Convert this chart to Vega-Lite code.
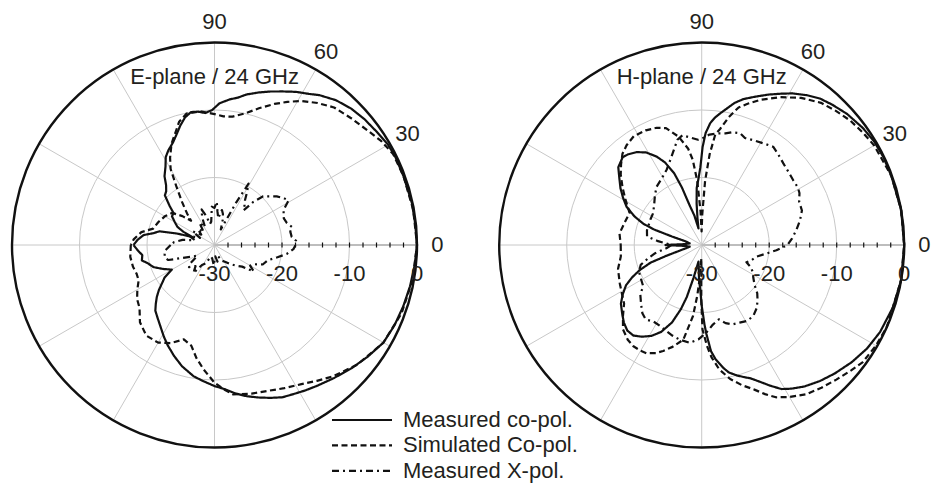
{
 "$schema": "https://vega.github.io/schema/vega-lite/v6.json",
 "width": 932,
 "height": 486,
 "autosize": {"type": "none"},
 "padding": 0,
 "background": "white",
 "config": {"view": {"stroke": null}, "font": "Liberation Sans"},
 "datasets": {
  "planes": [{"p": "E", "t": "E-plane / 24 GHz"}, {"p": "H", "t": "H-plane / 24 GHz"}],
  "rings": [{"p": "E", "lv": -20}, {"p": "E", "lv": -10}, {"p": "H", "lv": -20}, {"p": "H", "lv": -10}],
  "spokes": [
   {"p": "E", "a": 0}, {"p": "E", "a": 30}, {"p": "E", "a": 60}, {"p": "E", "a": 90}, {"p": "E", "a": 120}, {"p": "E", "a": 150},
   {"p": "E", "a": 180}, {"p": "E", "a": 210}, {"p": "E", "a": 240}, {"p": "E", "a": 270}, {"p": "E", "a": 300}, {"p": "E", "a": 330},
   {"p": "H", "a": 0}, {"p": "H", "a": 30}, {"p": "H", "a": 60}, {"p": "H", "a": 90}, {"p": "H", "a": 120}, {"p": "H", "a": 150},
   {"p": "H", "a": 180}, {"p": "H", "a": 210}, {"p": "H", "a": 240}, {"p": "H", "a": 270}, {"p": "H", "a": 300}, {"p": "H", "a": 330}
  ],
  "ticks": [
   {"p": "E", "d": -28}, {"p": "E", "d": -26}, {"p": "E", "d": -24}, {"p": "E", "d": -22}, {"p": "E", "d": -20}, {"p": "E", "d": -18}, {"p": "E", "d": -16},
   {"p": "E", "d": -14}, {"p": "E", "d": -12}, {"p": "E", "d": -10}, {"p": "E", "d": -8}, {"p": "E", "d": -6}, {"p": "E", "d": -4}, {"p": "E", "d": -2},
   {"p": "H", "d": -28}, {"p": "H", "d": -26}, {"p": "H", "d": -24}, {"p": "H", "d": -22}, {"p": "H", "d": -20}, {"p": "H", "d": -18}, {"p": "H", "d": -16},
   {"p": "H", "d": -14}, {"p": "H", "d": -12}, {"p": "H", "d": -10}, {"p": "H", "d": -8}, {"p": "H", "d": -6}, {"p": "H", "d": -4}, {"p": "H", "d": -2}
  ],
  "alabels": [
   {"p": "E", "a": 0, "t": "0"}, {"p": "E", "a": 30, "t": "30"}, {"p": "E", "a": 60, "t": "60"}, {"p": "E", "a": 90, "t": "90"},
   {"p": "H", "a": 0, "t": "0"}, {"p": "H", "a": 30, "t": "30"}, {"p": "H", "a": 60, "t": "60"}, {"p": "H", "a": 90, "t": "90"}
  ],
  "rlabels": [
   {"p": "E", "d": -30, "t": "-30"}, {"p": "E", "d": -20, "t": "-20"}, {"p": "E", "d": -10, "t": "-10"}, {"p": "E", "d": 0, "t": "0"},
   {"p": "H", "d": -30, "t": "-30"}, {"p": "H", "d": -20, "t": "-20"}, {"p": "H", "d": -10, "t": "-10"}, {"p": "H", "d": 0, "t": "0"}
  ],
  "curves": [
   {"p":"E","s":"M","a":-180,"d":-18.0},{"p":"E","s":"M","a":-176,"d":-18.6},{"p":"E","s":"M","a":-172,"d":-19.2},{"p":"E","s":"M","a":-168,"d":-19.0},
   {"p":"E","s":"M","a":-165,"d":-19.7},{"p":"E","s":"M","a":-160,"d":-20.4},{"p":"E","s":"M","a":-155,"d":-21.6},{"p":"E","s":"M","a":-150,"d":-22.7},
   {"p":"E","s":"M","a":-147,"d":-21.2},{"p":"E","s":"M","a":-144,"d":-20.4},{"p":"E","s":"M","a":-141,"d":-19.4},{"p":"E","s":"M","a":-138,"d":-18.5},
   {"p":"E","s":"M","a":-135,"d":-17.7},{"p":"E","s":"M","a":-132,"d":-16.9},{"p":"E","s":"M","a":-128,"d":-16.3},{"p":"E","s":"M","a":-124,"d":-15.6},
   {"p":"E","s":"M","a":-119,"d":-14.5},{"p":"E","s":"M","a":-115,"d":-13.6},{"p":"E","s":"M","a":-110,"d":-12.5},{"p":"E","s":"M","a":-105,"d":-11.4},
   {"p":"E","s":"M","a":-99,"d":-10.3},{"p":"E","s":"M","a":-95,"d":-9.8},{"p":"E","s":"M","a":-90,"d":-9.1},{"p":"E","s":"M","a":-86,"d":-8.6},
   {"p":"E","s":"M","a":-82,"d":-7.8},{"p":"E","s":"M","a":-78,"d":-7.1},{"p":"E","s":"M","a":-74,"d":-6.5},{"p":"E","s":"M","a":-70,"d":-5.9},
   {"p":"E","s":"M","a":-66,"d":-5.3},{"p":"E","s":"M","a":-62,"d":-5.0},{"p":"E","s":"M","a":-58,"d":-4.6},{"p":"E","s":"M","a":-54,"d":-4.2},
   {"p":"E","s":"M","a":-48,"d":-3.5},{"p":"E","s":"M","a":-42,"d":-2.7},{"p":"E","s":"M","a":-36,"d":-1.9},{"p":"E","s":"M","a":-30,"d":-1.1},
   {"p":"E","s":"M","a":-24,"d":-0.8},{"p":"E","s":"M","a":-18,"d":-0.6},{"p":"E","s":"M","a":-12,"d":-0.4},{"p":"E","s":"M","a":-6,"d":-0.2},
   {"p":"E","s":"M","a":0,"d":0},{"p":"E","s":"M","a":6,"d":-0.1},{"p":"E","s":"M","a":12,"d":-0.1},{"p":"E","s":"M","a":20,"d":-0.2},
   {"p":"E","s":"M","a":26,"d":-0.2},{"p":"E","s":"M","a":30,"d":-0.3},{"p":"E","s":"M","a":35,"d":-0.7},{"p":"E","s":"M","a":40,"d":-1.0},
   {"p":"E","s":"M","a":45,"d":-1.4},{"p":"E","s":"M","a":50,"d":-2.0},{"p":"E","s":"M","a":55,"d":-2.9},{"p":"E","s":"M","a":58,"d":-3.6},
   {"p":"E","s":"M","a":62,"d":-4.3},{"p":"E","s":"M","a":66,"d":-5.1},{"p":"E","s":"M","a":70,"d":-5.8},{"p":"E","s":"M","a":74,"d":-6.5},
   {"p":"E","s":"M","a":78,"d":-7.2},{"p":"E","s":"M","a":81,"d":-7.9},{"p":"E","s":"M","a":84,"d":-8.3},{"p":"E","s":"M","a":88,"d":-9.0},
   {"p":"E","s":"M","a":91,"d":-10.0},{"p":"E","s":"M","a":94,"d":-10.4},{"p":"E","s":"M","a":97,"d":-10.1},{"p":"E","s":"M","a":100,"d":-10.0},
   {"p":"E","s":"M","a":103,"d":-10.6},{"p":"E","s":"M","a":106,"d":-11.6},{"p":"E","s":"M","a":109,"d":-12.7},{"p":"E","s":"M","a":112,"d":-13.6},
   {"p":"E","s":"M","a":116,"d":-14.4},{"p":"E","s":"M","a":119,"d":-15.1},{"p":"E","s":"M","a":122,"d":-16.3},{"p":"E","s":"M","a":126,"d":-17.4},
   {"p":"E","s":"M","a":129,"d":-18.6},{"p":"E","s":"M","a":132,"d":-19.3},{"p":"E","s":"M","a":135,"d":-19.6},{"p":"E","s":"M","a":139,"d":-21.2},
   {"p":"E","s":"M","a":142,"d":-22.3},{"p":"E","s":"M","a":146,"d":-22.4},{"p":"E","s":"M","a":150,"d":-23.2},{"p":"E","s":"M","a":154,"d":-23.9},
   {"p":"E","s":"M","a":157,"d":-25.0},{"p":"E","s":"M","a":160,"d":-26.5},{"p":"E","s":"M","a":163,"d":-24.2},{"p":"E","s":"M","a":166,"d":-21.6},
   {"p":"E","s":"M","a":169,"d":-20.8},{"p":"E","s":"M","a":172,"d":-19.4},{"p":"E","s":"M","a":176,"d":-18.6},{"p":"E","s":"M","a":180,"d":-18.0},

   {"p":"E","s":"S","a":-180,"d":-17.6},{"p":"E","s":"S","a":-172,"d":-17.4},{"p":"E","s":"S","a":-165,"d":-17.5},{"p":"E","s":"S","a":-160,"d":-17.7},
   {"p":"E","s":"S","a":-155,"d":-17.6},{"p":"E","s":"S","a":-150,"d":-16.8},{"p":"E","s":"S","a":-145,"d":-16.0},{"p":"E","s":"S","a":-140,"d":-15.5},
   {"p":"E","s":"S","a":-134,"d":-14.1},{"p":"E","s":"S","a":-127,"d":-13.2},{"p":"E","s":"S","a":-120,"d":-13.3},{"p":"E","s":"S","a":-114,"d":-14.1},
   {"p":"E","s":"S","a":-108,"d":-15.3},{"p":"E","s":"S","a":-103,"d":-14.7},{"p":"E","s":"S","a":-99,"d":-13.0},{"p":"E","s":"S","a":-95,"d":-11.5},
   {"p":"E","s":"S","a":-90,"d":-9.6},{"p":"E","s":"S","a":-86,"d":-8.5},{"p":"E","s":"S","a":-83,"d":-7.7},{"p":"E","s":"S","a":-76,"d":-7.3},
   {"p":"E","s":"S","a":-70,"d":-7.0},{"p":"E","s":"S","a":-64,"d":-6.4},{"p":"E","s":"S","a":-58,"d":-5.7},{"p":"E","s":"S","a":-53,"d":-4.8},
   {"p":"E","s":"S","a":-48,"d":-3.8},{"p":"E","s":"S","a":-40,"d":-2.4},{"p":"E","s":"S","a":-30,"d":-1.1},{"p":"E","s":"S","a":-20,"d":-0.5},
   {"p":"E","s":"S","a":-10,"d":-0.2},{"p":"E","s":"S","a":0,"d":0},{"p":"E","s":"S","a":10,"d":-0.1},{"p":"E","s":"S","a":20,"d":-0.2},
   {"p":"E","s":"S","a":27,"d":-0.3},{"p":"E","s":"S","a":32,"d":-0.9},{"p":"E","s":"S","a":37,"d":-1.7},{"p":"E","s":"S","a":43,"d":-2.4},
   {"p":"E","s":"S","a":49,"d":-3.0},{"p":"E","s":"S","a":54,"d":-4.0},{"p":"E","s":"S","a":59,"d":-5.1},{"p":"E","s":"S","a":63,"d":-6.2},
   {"p":"E","s":"S","a":67,"d":-7.3},{"p":"E","s":"S","a":72,"d":-8.7},{"p":"E","s":"S","a":77,"d":-10.0},{"p":"E","s":"S","a":82,"d":-10.8},
   {"p":"E","s":"S","a":86,"d":-10.9},{"p":"E","s":"S","a":90,"d":-10.6},{"p":"E","s":"S","a":96,"d":-10.1},{"p":"E","s":"S","a":102,"d":-10.1},
   {"p":"E","s":"S","a":106,"d":-11.0},{"p":"E","s":"S","a":109,"d":-12.3},{"p":"E","s":"S","a":113,"d":-13.7},{"p":"E","s":"S","a":117,"d":-15.5},
   {"p":"E","s":"S","a":120,"d":-17.0},{"p":"E","s":"S","a":123,"d":-19.6},{"p":"E","s":"S","a":127,"d":-22.0},{"p":"E","s":"S","a":131,"d":-23.8},
   {"p":"E","s":"S","a":134,"d":-25.0},{"p":"E","s":"S","a":138,"d":-23.6},{"p":"E","s":"S","a":143,"d":-22.1},{"p":"E","s":"S","a":150,"d":-21.5},
   {"p":"E","s":"S","a":158,"d":-21.0},{"p":"E","s":"S","a":165,"d":-20.6},{"p":"E","s":"S","a":170,"d":-19.0},{"p":"E","s":"S","a":176,"d":-18.0},
   {"p":"E","s":"S","a":180,"d":-17.6},

   {"p":"E","s":"X","a":-180,"d":-23.5},{"p":"E","s":"X","a":-174,"d":-22.7},{"p":"E","s":"X","a":-170,"d":-22.5},{"p":"E","s":"X","a":-166,"d":-22.4},
   {"p":"E","s":"X","a":-162,"d":-22.8},{"p":"E","s":"X","a":-159,"d":-24.5},{"p":"E","s":"X","a":-154,"d":-26.0},{"p":"E","s":"X","a":-148,"d":-27.0},
   {"p":"E","s":"X","a":-143,"d":-25.6},{"p":"E","s":"X","a":-139,"d":-25.0},{"p":"E","s":"X","a":-132,"d":-25.8},{"p":"E","s":"X","a":-127,"d":-24.8},
   {"p":"E","s":"X","a":-122,"d":-26.5},{"p":"E","s":"X","a":-115,"d":-27.0},{"p":"E","s":"X","a":-108,"d":-28.2},{"p":"E","s":"X","a":-100,"d":-28.0},
   {"p":"E","s":"X","a":-92,"d":-27.0},{"p":"E","s":"X","a":-86,"d":-28.3},{"p":"E","s":"X","a":-80,"d":-27.5},{"p":"E","s":"X","a":-72,"d":-28.2},
   {"p":"E","s":"X","a":-64,"d":-27.4},{"p":"E","s":"X","a":-57,"d":-27.0},{"p":"E","s":"X","a":-50,"d":-26.3},{"p":"E","s":"X","a":-44,"d":-25.6},
   {"p":"E","s":"X","a":-38,"d":-24.8},{"p":"E","s":"X","a":-34,"d":-23.0},{"p":"E","s":"X","a":-30,"d":-23.9},{"p":"E","s":"X","a":-26,"d":-23.5},
   {"p":"E","s":"X","a":-22,"d":-22.3},{"p":"E","s":"X","a":-16,"d":-21.8},{"p":"E","s":"X","a":-11,"d":-20.5},{"p":"E","s":"X","a":-7,"d":-19.2},
   {"p":"E","s":"X","a":-3,"d":-18.3},{"p":"E","s":"X","a":0,"d":-18.0},{"p":"E","s":"X","a":3,"d":-17.9},{"p":"E","s":"X","a":6,"d":-18.5},
   {"p":"E","s":"X","a":10,"d":-18.6},{"p":"E","s":"X","a":13,"d":-18.2},{"p":"E","s":"X","a":17,"d":-18.8},{"p":"E","s":"X","a":21,"d":-19.0},
   {"p":"E","s":"X","a":24,"d":-18.8},{"p":"E","s":"X","a":27,"d":-18.5},{"p":"E","s":"X","a":31,"d":-17.2},{"p":"E","s":"X","a":34,"d":-17.6},
   {"p":"E","s":"X","a":38,"d":-18.3},{"p":"E","s":"X","a":41,"d":-19.0},{"p":"E","s":"X","a":45,"d":-19.8},{"p":"E","s":"X","a":48,"d":-21.4},
   {"p":"E","s":"X","a":50,"d":-23.3},{"p":"E","s":"X","a":53,"d":-22.6},{"p":"E","s":"X","a":56,"d":-21.9},{"p":"E","s":"X","a":58,"d":-21.0},
   {"p":"E","s":"X","a":61,"d":-19.6},{"p":"E","s":"X","a":63,"d":-23.0},{"p":"E","s":"X","a":65,"d":-26.0},{"p":"E","s":"X","a":68,"d":-27.5},
   {"p":"E","s":"X","a":72,"d":-26.0},{"p":"E","s":"X","a":75,"d":-25.2},{"p":"E","s":"X","a":78,"d":-24.7},{"p":"E","s":"X","a":82,"d":-26.0},
   {"p":"E","s":"X","a":85,"d":-25.0},{"p":"E","s":"X","a":87,"d":-23.6},{"p":"E","s":"X","a":90,"d":-24.5},{"p":"E","s":"X","a":94,"d":-24.3},
   {"p":"E","s":"X","a":98,"d":-26.5},{"p":"E","s":"X","a":102,"d":-26.8},{"p":"E","s":"X","a":106,"d":-25.5},{"p":"E","s":"X","a":110,"d":-24.4},
   {"p":"E","s":"X","a":114,"d":-25.5},{"p":"E","s":"X","a":118,"d":-27.0},{"p":"E","s":"X","a":124,"d":-26.0},{"p":"E","s":"X","a":130,"d":-27.5},
   {"p":"E","s":"X","a":136,"d":-26.6},{"p":"E","s":"X","a":142,"d":-27.5},{"p":"E","s":"X","a":148,"d":-26.2},{"p":"E","s":"X","a":154,"d":-27.6},
   {"p":"E","s":"X","a":160,"d":-26.0},{"p":"E","s":"X","a":166,"d":-27.0},{"p":"E","s":"X","a":171,"d":-25.2},{"p":"E","s":"X","a":176,"d":-24.0},
   {"p":"E","s":"X","a":180,"d":-23.5},

   {"p":"H","s":"M","a":-180,"d":-24.5},{"p":"H","s":"M","a":-177,"d":-27.5},{"p":"H","s":"M","a":-172,"d":-28.2},{"p":"H","s":"M","a":-168,"d":-27.5},
   {"p":"H","s":"M","a":-165,"d":-26.3},{"p":"H","s":"M","a":-163,"d":-24.5},{"p":"H","s":"M","a":-161,"d":-22.0},{"p":"H","s":"M","a":-158,"d":-20.1},
   {"p":"H","s":"M","a":-155,"d":-18.6},{"p":"H","s":"M","a":-152,"d":-17.3},{"p":"H","s":"M","a":-148,"d":-16.2},{"p":"H","s":"M","a":-144,"d":-15.2},
   {"p":"H","s":"M","a":-139,"d":-14.4},{"p":"H","s":"M","a":-135,"d":-13.7},{"p":"H","s":"M","a":-131,"d":-13.2},{"p":"H","s":"M","a":-127,"d":-13.2},
   {"p":"H","s":"M","a":-123,"d":-13.8},{"p":"H","s":"M","a":-119,"d":-14.6},{"p":"H","s":"M","a":-115,"d":-15.8},{"p":"H","s":"M","a":-111,"d":-17.7},
   {"p":"H","s":"M","a":-108,"d":-20.0},{"p":"H","s":"M","a":-106,"d":-22.0},{"p":"H","s":"M","a":-104,"d":-25.0},{"p":"H","s":"M","a":-101,"d":-27.5},
   {"p":"H","s":"M","a":-98,"d":-26.8},{"p":"H","s":"M","a":-96,"d":-25.8},{"p":"H","s":"M","a":-94,"d":-24.6},{"p":"H","s":"M","a":-92,"d":-23.5},
   {"p":"H","s":"M","a":-90,"d":-21.0},{"p":"H","s":"M","a":-88,"d":-18.2},{"p":"H","s":"M","a":-87,"d":-16.8},{"p":"H","s":"M","a":-85,"d":-14.2},
   {"p":"H","s":"M","a":-83,"d":-12.9},{"p":"H","s":"M","a":-80,"d":-11.5},{"p":"H","s":"M","a":-78,"d":-10.7},{"p":"H","s":"M","a":-75,"d":-10.0},
   {"p":"H","s":"M","a":-72,"d":-9.4},{"p":"H","s":"M","a":-70,"d":-9.0},{"p":"H","s":"M","a":-67,"d":-8.0},{"p":"H","s":"M","a":-64,"d":-6.8},
   {"p":"H","s":"M","a":-61,"d":-5.6},{"p":"H","s":"M","a":-58,"d":-4.9},{"p":"H","s":"M","a":-54,"d":-4.1},{"p":"H","s":"M","a":-49,"d":-3.3},
   {"p":"H","s":"M","a":-44,"d":-2.6},{"p":"H","s":"M","a":-38,"d":-1.8},{"p":"H","s":"M","a":-32,"d":-1.1},{"p":"H","s":"M","a":-26,"d":-0.6},
   {"p":"H","s":"M","a":-18,"d":-0.2},{"p":"H","s":"M","a":-10,"d":0},{"p":"H","s":"M","a":0,"d":0},{"p":"H","s":"M","a":10,"d":0},
   {"p":"H","s":"M","a":20,"d":-0.1},{"p":"H","s":"M","a":26,"d":-0.1},{"p":"H","s":"M","a":31,"d":-0.2},{"p":"H","s":"M","a":36,"d":-0.5},
   {"p":"H","s":"M","a":42,"d":-1.0},{"p":"H","s":"M","a":47,"d":-1.6},{"p":"H","s":"M","a":51,"d":-2.1},{"p":"H","s":"M","a":55,"d":-2.9},
   {"p":"H","s":"M","a":59,"d":-3.8},{"p":"H","s":"M","a":62,"d":-4.6},{"p":"H","s":"M","a":66,"d":-5.6},{"p":"H","s":"M","a":70,"d":-6.6},
   {"p":"H","s":"M","a":74,"d":-7.5},{"p":"H","s":"M","a":77,"d":-8.4},{"p":"H","s":"M","a":80,"d":-9.6},{"p":"H","s":"M","a":82,"d":-10.3},
   {"p":"H","s":"M","a":84,"d":-11.0},{"p":"H","s":"M","a":86,"d":-11.9},{"p":"H","s":"M","a":88,"d":-13.4},{"p":"H","s":"M","a":89.5,"d":-15.5},
   {"p":"H","s":"M","a":91,"d":-18.5},{"p":"H","s":"M","a":93,"d":-20.3},{"p":"H","s":"M","a":95,"d":-21.5},{"p":"H","s":"M","a":97,"d":-23.8},
   {"p":"H","s":"M","a":99,"d":-26.0},{"p":"H","s":"M","a":101,"d":-27.5},{"p":"H","s":"M","a":104,"d":-25.5},{"p":"H","s":"M","a":107,"d":-23.8},
   {"p":"H","s":"M","a":109,"d":-21.0},{"p":"H","s":"M","a":111,"d":-18.6},{"p":"H","s":"M","a":114,"d":-16.6},{"p":"H","s":"M","a":117,"d":-15.3},
   {"p":"H","s":"M","a":121,"d":-14.0},{"p":"H","s":"M","a":125,"d":-13.2},{"p":"H","s":"M","a":129,"d":-12.7},{"p":"H","s":"M","a":132,"d":-12.5},
   {"p":"H","s":"M","a":137,"d":-13.1},{"p":"H","s":"M","a":141,"d":-14.3},{"p":"H","s":"M","a":145,"d":-15.3},{"p":"H","s":"M","a":149,"d":-16.4},
   {"p":"H","s":"M","a":153,"d":-17.5},{"p":"H","s":"M","a":157,"d":-19.2},{"p":"H","s":"M","a":160,"d":-20.8},{"p":"H","s":"M","a":162,"d":-22.6},
   {"p":"H","s":"M","a":164,"d":-25.4},{"p":"H","s":"M","a":167,"d":-27.5},{"p":"H","s":"M","a":172,"d":-28.2},{"p":"H","s":"M","a":177,"d":-27.5},
   {"p":"H","s":"M","a":180,"d":-24.5},

   {"p":"H","s":"S","a":-180,"d":-18.0},{"p":"H","s":"S","a":-172,"d":-17.9},{"p":"H","s":"S","a":-164,"d":-17.1},{"p":"H","s":"S","a":-155,"d":-16.6},
   {"p":"H","s":"S","a":-148,"d":-16.1},{"p":"H","s":"S","a":-143,"d":-15.6},{"p":"H","s":"S","a":-138,"d":-14.3},{"p":"H","s":"S","a":-133,"d":-12.9},
   {"p":"H","s":"S","a":-128,"d":-12.2},{"p":"H","s":"S","a":-124,"d":-11.9},{"p":"H","s":"S","a":-120,"d":-11.9},{"p":"H","s":"S","a":-117,"d":-12.0},
   {"p":"H","s":"S","a":-113,"d":-12.6},{"p":"H","s":"S","a":-110,"d":-13.3},{"p":"H","s":"S","a":-106,"d":-14.3},{"p":"H","s":"S","a":-101,"d":-15.7},
   {"p":"H","s":"S","a":-97,"d":-19.4},{"p":"H","s":"S","a":-95,"d":-22.5},{"p":"H","s":"S","a":-93,"d":-25.5},{"p":"H","s":"S","a":-91.5,"d":-28.0},
   {"p":"H","s":"S","a":-90.5,"d":-22.0},{"p":"H","s":"S","a":-89.5,"d":-17.5},{"p":"H","s":"S","a":-87,"d":-15.0},{"p":"H","s":"S","a":-85,"d":-13.3},
   {"p":"H","s":"S","a":-82,"d":-11.4},{"p":"H","s":"S","a":-78,"d":-9.7},{"p":"H","s":"S","a":-74,"d":-8.4},{"p":"H","s":"S","a":-70,"d":-7.2},
   {"p":"H","s":"S","a":-67,"d":-6.0},{"p":"H","s":"S","a":-64,"d":-4.9},{"p":"H","s":"S","a":-60,"d":-4.0},{"p":"H","s":"S","a":-55,"d":-3.0},
   {"p":"H","s":"S","a":-50,"d":-2.4},{"p":"H","s":"S","a":-45,"d":-1.8},{"p":"H","s":"S","a":-40,"d":-1.1},{"p":"H","s":"S","a":-36,"d":-0.5},
   {"p":"H","s":"S","a":-30,"d":-0.2},{"p":"H","s":"S","a":-24,"d":0},{"p":"H","s":"S","a":-10,"d":0},{"p":"H","s":"S","a":0,"d":0},
   {"p":"H","s":"S","a":10,"d":0},{"p":"H","s":"S","a":20,"d":-0.1},{"p":"H","s":"S","a":30,"d":-0.5},{"p":"H","s":"S","a":35,"d":-0.9},
   {"p":"H","s":"S","a":40,"d":-1.3},{"p":"H","s":"S","a":45,"d":-1.9},{"p":"H","s":"S","a":50,"d":-2.5},{"p":"H","s":"S","a":56,"d":-3.7},
   {"p":"H","s":"S","a":62,"d":-5.2},{"p":"H","s":"S","a":68,"d":-6.8},{"p":"H","s":"S","a":72,"d":-8.0},{"p":"H","s":"S","a":75,"d":-8.9},
   {"p":"H","s":"S","a":78,"d":-10.6},{"p":"H","s":"S","a":81,"d":-12.6},{"p":"H","s":"S","a":83,"d":-13.5},{"p":"H","s":"S","a":85,"d":-16.5},
   {"p":"H","s":"S","a":87,"d":-20.5},{"p":"H","s":"S","a":89,"d":-25.5},{"p":"H","s":"S","a":90.5,"d":-28.0},{"p":"H","s":"S","a":92,"d":-25.0},
   {"p":"H","s":"S","a":94,"d":-20.5},{"p":"H","s":"S","a":96,"d":-17.3},{"p":"H","s":"S","a":98,"d":-15.6},{"p":"H","s":"S","a":102,"d":-13.6},
   {"p":"H","s":"S","a":107,"d":-11.9},{"p":"H","s":"S","a":111,"d":-11.4},{"p":"H","s":"S","a":116,"d":-11.1},{"p":"H","s":"S","a":122,"d":-11.0},
   {"p":"H","s":"S","a":127,"d":-11.5},{"p":"H","s":"S","a":131,"d":-12.1},{"p":"H","s":"S","a":135,"d":-13.1},{"p":"H","s":"S","a":139,"d":-14.1},
   {"p":"H","s":"S","a":144,"d":-15.5},{"p":"H","s":"S","a":149,"d":-16.8},{"p":"H","s":"S","a":156,"d":-18.3},{"p":"H","s":"S","a":164,"d":-18.1},
   {"p":"H","s":"S","a":172,"d":-17.7},{"p":"H","s":"S","a":180,"d":-18.0},

   {"p":"H","s":"X","a":-180,"d":-25.5},{"p":"H","s":"X","a":-175,"d":-24.8},{"p":"H","s":"X","a":-170,"d":-23.0},{"p":"H","s":"X","a":-166,"d":-21.8},
   {"p":"H","s":"X","a":-162,"d":-20.5},{"p":"H","s":"X","a":-157,"d":-19.9},{"p":"H","s":"X","a":-151,"d":-19.7},{"p":"H","s":"X","a":-145,"d":-19.4},
   {"p":"H","s":"X","a":-141,"d":-18.3},{"p":"H","s":"X","a":-136,"d":-17.5},{"p":"H","s":"X","a":-131,"d":-16.6},{"p":"H","s":"X","a":-127,"d":-16.2},
   {"p":"H","s":"X","a":-122,"d":-16.6},{"p":"H","s":"X","a":-117,"d":-16.5},{"p":"H","s":"X","a":-112,"d":-16.2},{"p":"H","s":"X","a":-108,"d":-15.9},
   {"p":"H","s":"X","a":-103,"d":-15.6},{"p":"H","s":"X","a":-97,"d":-15.4},{"p":"H","s":"X","a":-92,"d":-16.0},{"p":"H","s":"X","a":-87,"d":-17.0},
   {"p":"H","s":"X","a":-82,"d":-18.1},{"p":"H","s":"X","a":-77,"d":-18.7},{"p":"H","s":"X","a":-73,"d":-17.9},{"p":"H","s":"X","a":-69,"d":-17.4},
   {"p":"H","s":"X","a":-64,"d":-17.2},{"p":"H","s":"X","a":-59,"d":-16.9},{"p":"H","s":"X","a":-54,"d":-17.0},{"p":"H","s":"X","a":-49,"d":-17.6},
   {"p":"H","s":"X","a":-45,"d":-18.3},{"p":"H","s":"X","a":-41,"d":-19.1},{"p":"H","s":"X","a":-37,"d":-20.2},{"p":"H","s":"X","a":-32,"d":-21.0},
   {"p":"H","s":"X","a":-28,"d":-21.4},{"p":"H","s":"X","a":-24,"d":-22.1},{"p":"H","s":"X","a":-21,"d":-22.9},{"p":"H","s":"X","a":-17,"d":-22.3},
   {"p":"H","s":"X","a":-12,"d":-21.7},{"p":"H","s":"X","a":-8,"d":-20.5},{"p":"H","s":"X","a":-4,"d":-18.9},{"p":"H","s":"X","a":0,"d":-17.3},
   {"p":"H","s":"X","a":4,"d":-16.6},{"p":"H","s":"X","a":9,"d":-15.8},{"p":"H","s":"X","a":14,"d":-15.0},{"p":"H","s":"X","a":19,"d":-14.3},
   {"p":"H","s":"X","a":24,"d":-14.2},{"p":"H","s":"X","a":28,"d":-13.6},{"p":"H","s":"X","a":31,"d":-13.4},{"p":"H","s":"X","a":35,"d":-13.4},
   {"p":"H","s":"X","a":40,"d":-13.2},{"p":"H","s":"X","a":45,"d":-12.9},{"p":"H","s":"X","a":50,"d":-12.4},{"p":"H","s":"X","a":54,"d":-12.0},
   {"p":"H","s":"X","a":59,"d":-12.4},{"p":"H","s":"X","a":64,"d":-12.7},{"p":"H","s":"X","a":68,"d":-12.9},{"p":"H","s":"X","a":71,"d":-12.5},
   {"p":"H","s":"X","a":75,"d":-12.7},{"p":"H","s":"X","a":78,"d":-13.1},{"p":"H","s":"X","a":82,"d":-13.3},{"p":"H","s":"X","a":86,"d":-13.6},
   {"p":"H","s":"X","a":89,"d":-14.1},{"p":"H","s":"X","a":92,"d":-14.4},{"p":"H","s":"X","a":96,"d":-14.0},{"p":"H","s":"X","a":100,"d":-13.5},
   {"p":"H","s":"X","a":103,"d":-14.0},{"p":"H","s":"X","a":106,"d":-15.2},{"p":"H","s":"X","a":110,"d":-16.5},{"p":"H","s":"X","a":115,"d":-17.7},
   {"p":"H","s":"X","a":121,"d":-18.5},{"p":"H","s":"X","a":128,"d":-19.1},{"p":"H","s":"X","a":134,"d":-20.0},{"p":"H","s":"X","a":140,"d":-20.8},
   {"p":"H","s":"X","a":147,"d":-21.4},{"p":"H","s":"X","a":153,"d":-21.5},{"p":"H","s":"X","a":159,"d":-21.6},{"p":"H","s":"X","a":165,"d":-21.6},
   {"p":"H","s":"X","a":171,"d":-21.8},{"p":"H","s":"X","a":175,"d":-23.5},{"p":"H","s":"X","a":180,"d":-25.5}
  ]
 },
 "layer": [
  {
   "data": {"name": "rings"},
   "transform": [{"calculate": "datum.p == 'E' ? 0 : 2.406", "as": "cx"}, {"calculate": "0", "as": "cy"}],
   "mark": {"type": "point", "shape": "circle", "filled": false, "stroke": "#c8c8c8", "strokeWidth": 1, "opacity": 1},
   "encoding": {
    "x": {"field": "cx", "type": "quantitative", "scale": {"domain": [-1.0593, 3.5432], "nice": false, "zero": false}, "axis": null},
    "y": {"field": "cy", "type": "quantitative", "scale": {"domain": [-1.1901, 1.2099], "nice": false, "zero": false}, "axis": null},
    "size": {"field": "lv", "type": "nominal", "scale": {"domain": [-20, -10], "range": [18225, 72900]}, "legend": null}
   }
  },
  {
   "data": {"name": "spokes"},
   "transform": [
    {"calculate": "datum.p == 'E' ? 0 : 2.406", "as": "cx"},
    {"calculate": "0", "as": "cy"},
    {"calculate": "datum.cx + cos(datum.a * PI / 180)", "as": "x2"},
    {"calculate": "sin(datum.a * PI / 180)", "as": "y2"}
   ],
   "mark": {"type": "rule", "stroke": "#c8c8c8", "strokeWidth": 1},
   "encoding": {
    "x": {"field": "cx", "type": "quantitative"},
    "y": {"field": "cy", "type": "quantitative"},
    "x2": {"field": "x2"},
    "y2": {"field": "y2"}
   }
  },
  {
   "data": {"name": "spokes"},
   "transform": [
    {"filter": "datum.a == 0"},
    {"calculate": "datum.p == 'E' ? 0 : 2.406", "as": "cx"},
    {"calculate": "0", "as": "cy"},
    {"calculate": "datum.cx + 1", "as": "x2"}
   ],
   "mark": {"type": "rule", "stroke": "#bdbdbd", "strokeWidth": 2},
   "encoding": {
    "x": {"field": "cx", "type": "quantitative"},
    "y": {"field": "cy", "type": "quantitative"},
    "x2": {"field": "x2"}
   }
  },
  {
   "data": {"name": "ticks"},
   "transform": [
    {"calculate": "datum.p == 'E' ? 0 : 2.406", "as": "cx"},
    {"calculate": "0", "as": "cy"},
    {"calculate": "datum.cx + (datum.d + 30) / 30", "as": "x"}
   ],
   "mark": {"type": "tick", "orient": "vertical", "size": 5, "thickness": 1.2, "color": "#111", "opacity": 1},
   "encoding": {
    "x": {"field": "x", "type": "quantitative"},
    "y": {"field": "cy", "type": "quantitative"}
   }
  },
  {
   "data": {"name": "planes"},
   "transform": [{"calculate": "datum.p == 'E' ? 0 : 2.406", "as": "cx"}, {"calculate": "0", "as": "cy"}],
   "mark": {"type": "point", "shape": "circle", "filled": false, "stroke": "#111", "strokeWidth": 2.4, "opacity": 1, "size": 164025},
   "encoding": {
    "x": {"field": "cx", "type": "quantitative"},
    "y": {"field": "cy", "type": "quantitative"}
   }
  },
  {
   "data": {"name": "curves"},
   "transform": [
    {"calculate": "datum.p == 'E' ? 0 : 2.406", "as": "cx"},
    {"calculate": "max(0, (datum.d + 30) / 30)", "as": "r"},
    {"calculate": "datum.cx + datum.r * cos(datum.a * PI / 180)", "as": "x"},
    {"calculate": "datum.r * sin(datum.a * PI / 180)", "as": "y"}
   ],
   "mark": {"type": "line", "color": "#111", "strokeWidth": 2.2, "strokeJoin": "round"},
   "encoding": {
    "x": {"field": "x", "type": "quantitative"},
    "y": {"field": "y", "type": "quantitative"},
    "detail": {"field": "p", "type": "nominal"},
    "order": {"field": "a", "type": "quantitative"},
    "strokeDash": {
     "field": "s", "type": "nominal",
     "scale": {"domain": ["M", "S", "X"], "range": [[1, 0], [6, 3.5], [7, 4, 2, 4]]},
     "legend": {
      "title": null, "orient": "none", "legendX": 351, "legendY": 409,
      "symbolType": "M-5,0H5", "symbolSize": 144, "symbolStrokeWidth": 2.2, "symbolStrokeColor": "#111",
      "labelFontSize": 22, "labelFont": "Liberation Sans", "labelColor": "#231f20", "labelOffset": 30,
      "rowPadding": 3.4, "padding": 0, "labelLimit": 400,
      "labelExpr": "datum.label == 'M' ? 'Measured co-pol.' : datum.label == 'S' ? 'Simulated Co-pol.' : 'Measured X-pol.'"
     }
    }
   }
  },
  {
   "data": {"name": "alabels"},
   "transform": [
    {"calculate": "datum.p == 'E' ? 0 : 2.406", "as": "cx"},
    {"calculate": "datum.cx + 1.1 * cos(datum.a * PI / 180)", "as": "x"},
    {"calculate": "1.1 * sin(datum.a * PI / 180)", "as": "y"}
   ],
   "mark": {"type": "text", "fontSize": 22, "font": "Liberation Sans", "color": "#231f20", "align": "center", "baseline": "middle"},
   "encoding": {
    "x": {"field": "x", "type": "quantitative"},
    "y": {"field": "y", "type": "quantitative"},
    "text": {"field": "t", "type": "nominal"}
   }
  },
  {
   "data": {"name": "rlabels"},
   "transform": [
    {"calculate": "datum.p == 'E' ? 0 : 2.406", "as": "cx"},
    {"calculate": "0", "as": "cy"},
    {"calculate": "datum.cx + (datum.d + 30) / 30", "as": "x"}
   ],
   "mark": {"type": "text", "fontSize": 22, "font": "Liberation Sans", "color": "#231f20", "align": "center", "baseline": "middle", "dy": 29},
   "encoding": {
    "x": {"field": "x", "type": "quantitative"},
    "y": {"field": "cy", "type": "quantitative"},
    "text": {"field": "t", "type": "nominal"}
   }
  },
  {
   "data": {"name": "planes"},
   "transform": [{"calculate": "datum.p == 'E' ? 0 : 2.406", "as": "cx"}, {"calculate": "0.83", "as": "ty"}],
   "mark": {"type": "text", "fontSize": 22, "font": "Liberation Sans", "color": "#231f20", "align": "center", "baseline": "middle"},
   "encoding": {
    "x": {"field": "cx", "type": "quantitative"},
    "y": {"field": "ty", "type": "quantitative"},
    "text": {"field": "t", "type": "nominal"}
   }
  }
 ]
}
